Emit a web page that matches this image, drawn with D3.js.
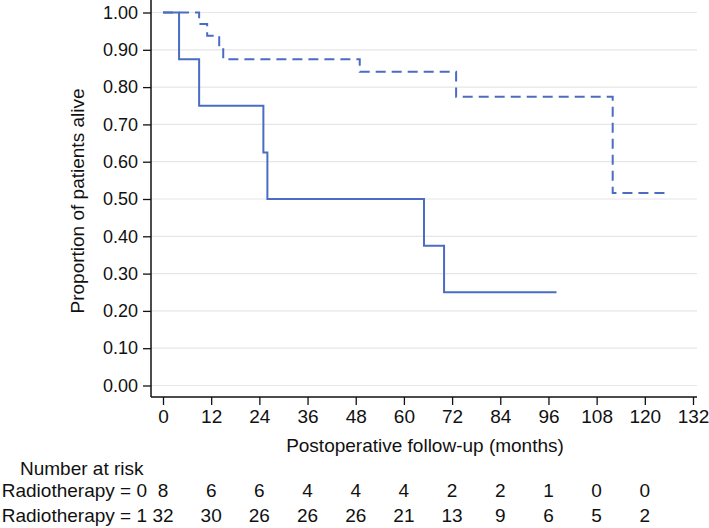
<!DOCTYPE html>
<html>
<head>
<meta charset="utf-8">
<script src="https://cdn.jsdelivr.net/npm/d3@7"></script>
<style>
  body { margin: 0; background: #fff; }
  text { font-family: "Liberation Sans", Arial, Helvetica, sans-serif; fill: #111; }
</style>
</head>
<body>
<div id="grafico"></div>
<script>
// curvas de sobrevida (tempo em meses, proporcao)
const tempoRT0 = [0, 4, 9, 25, 26, 65, 70, 98];
const survRT0 = [1.0, 0.875, 0.75, 0.625, 0.5, 0.375, 0.25, 0.25];
const tempoRT1 = [0, 9, 11, 14, 15, 49, 73, 112, 125];
const survRT1 = [1.0, 0.969, 0.9375, 0.906, 0.875, 0.841, 0.774, 0.516, 0.516];

const ticksX = [0, 12, 24, 36, 48, 60, 72, 84, 96, 108, 120, 132];
const ticksY = [0, 0.1, 0.2, 0.3, 0.4, 0.5, 0.6, 0.7, 0.8, 0.9, 1.0];
const riscoRT0 = [8, 6, 6, 4, 4, 4, 2, 2, 1, 0, 0];
const riscoRT1 = [32, 30, 26, 26, 26, 21, 13, 9, 6, 5, 2];
const rotulos = ["Radiotherapy = 0", "Radiotherapy = 1"];

const largura = 709, altura = 528;
const cor = "#4a6cc2";
const fonte = "19px";

const svg = d3.select("#grafico").append("svg")
    .attr("width", largura)
    .attr("height", altura);

const x = d3.scaleLinear().domain([0, 132]).range([163, 693]);
const y = d3.scaleLinear().domain([0, 1]).range([385.5, 12.5]);

const eixoEsq = 151, eixoBase = 397, direita = 697;

// linhas de grade
svg.append("g").selectAll("line")
    .data(ticksY)
    .enter()
    .append("line")
    .attr("x1", eixoEsq).attr("x2", direita)
    .attr("y1", d => y(d)).attr("y2", d => y(d))
    .attr("stroke", "#e6e6e6")
    .attr("stroke-width", 1.2);

// eixo y
const eixoY = d3.axisLeft(y).tickValues(ticksY).tickFormat(d3.format(".2f"))
    .tickSize(8).tickPadding(5);
const gY = svg.append("g").attr("transform", `translate(${eixoEsq},0)`).call(eixoY);
gY.select(".domain").remove();
gY.selectAll(".tick text").style("font-size", "18px");
svg.append("line")
    .attr("x1", eixoEsq).attr("x2", eixoEsq)
    .attr("y1", 0).attr("y2", eixoBase)
    .attr("stroke", "#111").attr("stroke-width", 1.5);

// eixo x
const eixoX = d3.axisBottom(x).tickValues(ticksX).tickSize(8).tickPadding(5);
const gX = svg.append("g").attr("transform", `translate(0,${eixoBase})`).call(eixoX);
gX.select(".domain").remove();
gX.selectAll(".tick text").style("font-size", fonte);
svg.append("line")
    .attr("x1", eixoEsq).attr("x2", direita)
    .attr("y1", eixoBase).attr("y2", eixoBase)
    .attr("stroke", "#111").attr("stroke-width", 1.5);

svg.selectAll(".tick line").attr("stroke", "#111").attr("stroke-width", 1.3);
svg.selectAll(".tick text").attr("fill", "#111");

// titulos dos eixos
svg.append("text")
    .attr("x", 425).attr("y", 452)
    .attr("text-anchor", "middle")
    .style("font-size", fonte)
    .text("Postoperative follow-up (months)");

svg.append("text")
    .attr("transform", "translate(84,201) rotate(-90)")
    .attr("text-anchor", "middle")
    .style("font-size", fonte)
    .text("Proportion of patients alive");

// curvas em degrau
const linha = d3.line()
    .x(d => x(d[0]))
    .y(d => y(d[1]))
    .curve(d3.curveStepAfter);

svg.append("path")
    .datum(d3.zip(tempoRT0, survRT0))
    .attr("d", linha)
    .attr("fill", "none")
    .attr("stroke", cor)
    .attr("stroke-width", 2);

svg.append("path")
    .datum(d3.zip(tempoRT1, survRT1))
    .attr("d", linha)
    .attr("fill", "none")
    .attr("stroke", cor)
    .attr("stroke-width", 2)
    .attr("stroke-dasharray", "10,6");

// numero em risco
svg.append("text")
    .attr("x", 20).attr("y", 475)
    .style("font-size", fonte)
    .text("Number at risk");

[riscoRT0, riscoRT1].forEach((linhaRisco, i) => {
    const yy = 497 + i * 25;
    svg.append("text")
        .attr("x", 147).attr("y", yy)
        .attr("text-anchor", "end")
        .style("font-size", fonte)
        .text(rotulos[i]);
    svg.append("g").selectAll("text")
        .data(linhaRisco)
        .enter()
        .append("text")
        .attr("x", (d, j) => x(ticksX[j]))
        .attr("y", yy)
        .attr("text-anchor", "middle")
        .style("font-size", fonte)
        .text(d => d);
});
</script>
</body>
</html>
